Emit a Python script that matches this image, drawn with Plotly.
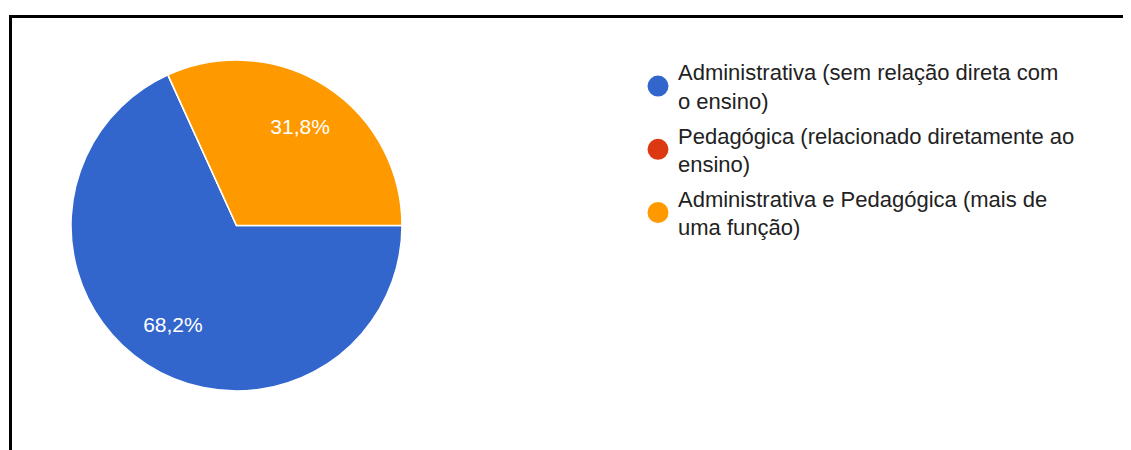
import plotly.graph_objects as go

W, H = 1131, 450
OFF = 8  # page body margin offset

categories = [
    "Administrativa (sem relação direta com<br>o ensino)",
    "Pedagógica (relacionado diretamente ao<br>ensino)",
    "Administrativa e Pedagógica (mais de<br>uma função)",
]
values = [68.2, 0.0, 31.8]
value_labels = ["68,2%", "", "31,8%"]
colors = ["#3366CC", "#DC3912", "#FF9900"]

FONT = "Liberation Sans, Arial, sans-serif"


def px_x(x):
    return (x - OFF) / W


def px_y(y):
    return 1 - (y - OFF) / H


dom = dict(x=[px_x(71), px_x(402)], y=[px_y(391), px_y(60)])

fig = go.Figure()

fig.add_trace(go.Pie(
    labels=categories,
    values=values,
    textinfo="none",
    marker=dict(colors=colors, line=dict(color="white", width=1.5)),
    sort=False,
    direction="clockwise",
    rotation=90,
    showlegend=False,
    hoverinfo="label+percent",
    domain=dom,
))

# transparent donut overlay used only to place the percentage labels further out
fig.add_trace(go.Pie(
    labels=categories,
    values=values,
    text=value_labels,
    textinfo="text",
    textposition="inside",
    insidetextorientation="horizontal",
    textfont=dict(family=FONT, size=21, color="white"),
    marker=dict(colors=["rgba(0,0,0,0)"] * 3, line=dict(width=0)),
    hole=0.42,
    sort=False,
    direction="clockwise",
    rotation=90,
    showlegend=False,
    hoverinfo="skip",
    domain=dom,
))

for i, (cat, col) in enumerate(zip(categories, colors)):
    fig.add_trace(go.Scatter(
        x=[None], y=[None], mode="markers",
        marker=dict(color=col, size=24, symbol="circle",
                    line=dict(color=col, width=6)),
        name=cat, legendgroup=f"g{i}", showlegend=True,
    ))

fig.update_layout(
    width=W, height=H,
    margin=dict(l=0, r=0, t=0, b=0),
    paper_bgcolor="white",
    plot_bgcolor="white",
    xaxis=dict(visible=False),
    yaxis=dict(visible=False),
    legend=dict(
        x=px_x(638), y=px_y(51), xanchor="left", yanchor="top",
        font=dict(family=FONT, size=22, color="#222222"),
        tracegroupgap=3,
        itemsizing="trace",
        bgcolor="rgba(0,0,0,0)",
    ),
    shapes=[
        dict(type="line", xref="paper", yref="paper",
             x0=px_x(9), x1=1.0, y0=px_y(16.5), y1=px_y(16.5),
             line=dict(color="black", width=3)),
        dict(type="line", xref="paper", yref="paper",
             x0=px_x(10.5), x1=px_x(10.5), y0=0, y1=px_y(15),
             line=dict(color="black", width=3)),
    ],
)

fig.write_html("out.html")
